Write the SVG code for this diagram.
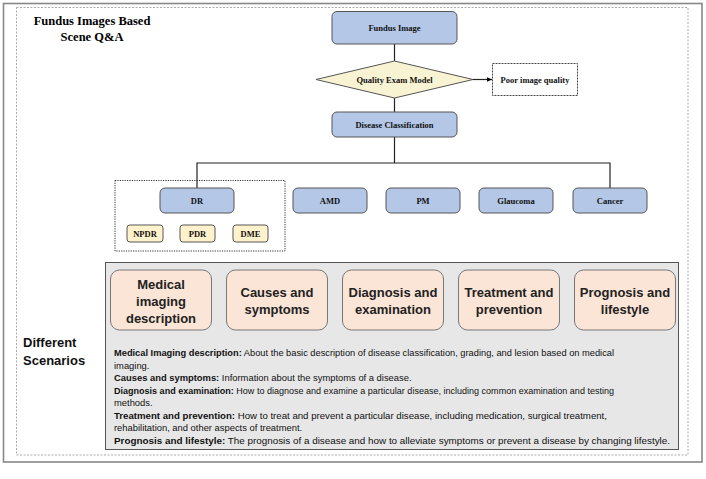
<svg xmlns="http://www.w3.org/2000/svg" width="706" height="479" viewBox="0 0 706 479">
<defs>
<marker id="arr" markerWidth="6" markerHeight="6" refX="5" refY="3" orient="auto" markerUnits="userSpaceOnUse">
<path d="M0,0.8 L5,3 L0,5.2 Z" fill="#000"/>
</marker>
<style>
.blue{fill:#b4c7e7;stroke:#555;stroke-width:1}
.yel{fill:#fff2cc;stroke:#555;stroke-width:1}
.pink{fill:#fbe5d6;stroke:#777;stroke-width:1}
.lbl{font-family:"Liberation Serif",serif;font-weight:bold;font-size:8.5px;text-anchor:middle;fill:#111}
.big{font-family:"Liberation Sans",sans-serif;font-weight:bold;font-size:13px;text-anchor:middle;fill:#222}
.body{font-family:"Liberation Sans",sans-serif;font-size:9.4px;fill:#111}
.b{font-weight:bold}
.conn{stroke:#222;stroke-width:1.2;fill:none}
</style>
</defs>
<rect x="3.5" y="3.5" width="698.5" height="458.5" fill="#fff" stroke="#888" stroke-width="1.6"/>
<rect x="16.5" y="7.5" width="671.5" height="447.5" fill="none" stroke="#aaa" stroke-width="1" stroke-dasharray="2,1.5"/>
<g id="title">
<text x="92" y="25" style="font-family:'Liberation Serif',serif;font-weight:bold;font-size:12.5px;text-anchor:middle">Fundus Images Based</text>
<text x="92" y="41" style="font-family:'Liberation Serif',serif;font-weight:bold;font-size:12.5px;text-anchor:middle">Scene Q&amp;A</text>
</g>
<g id="connectors">
<line class="conn" x1="394.5" y1="44" x2="394.5" y2="61"/>
<line class="conn" x1="394.5" y1="98" x2="394.5" y2="112"/>
<line class="conn" x1="473" y1="79.5" x2="492" y2="79.5" marker-end="url(#arr)"/>
<line class="conn" x1="394.5" y1="137" x2="394.5" y2="163"/>
<polyline class="conn" points="197,188 197,163 610,163 610,188"/>
</g>
<g id="fundus-image"><rect class="blue" x="332" y="11.5" width="125" height="32.5" rx="5"/><text class="lbl" x="394.5" y="31">Fundus Image</text></g>
<g id="quality-exam"><polygon points="316,79.5 394.5,61 473,79.5 394.5,98" fill="#f8f3d2" stroke="#555" stroke-width="1"/><text class="lbl" x="394.5" y="82.5">Quality Exam Model</text></g>
<g id="poor-quality"><rect x="492.5" y="63.5" width="85" height="32" fill="#fff" stroke="#444" stroke-width="1" stroke-dasharray="2,1"/><text class="lbl" x="535" y="82.5">Poor image quality</text></g>
<g id="disease-classification"><rect class="blue" x="332" y="112" width="125" height="25" rx="5"/><text class="lbl" x="394.5" y="127.5">Disease Classification</text></g>
<g id="dr-group"><rect x="115" y="180.5" width="170" height="70.5" fill="none" stroke="#333" stroke-width="1" stroke-dasharray="1.2,1.2"/></g>
<g id="dr"><rect class="blue" x="160" y="188" width="74" height="25" rx="5"/><text class="lbl" x="197" y="203.5">DR</text></g>
<g id="amd"><rect class="blue" x="293" y="188" width="74" height="25" rx="5"/><text class="lbl" x="330" y="203.5">AMD</text></g>
<g id="pm"><rect class="blue" x="386" y="188" width="74" height="25" rx="5"/><text class="lbl" x="423" y="203.5">PM</text></g>
<g id="glaucoma"><rect class="blue" x="479" y="188" width="74" height="25" rx="5"/><text class="lbl" x="516" y="203.5">Glaucoma</text></g>
<g id="cancer"><rect class="blue" x="573" y="188" width="74" height="25" rx="5"/><text class="lbl" x="610" y="203.5">Cancer</text></g>
<g id="npdr"><rect class="yel" x="127" y="225" width="36" height="17" rx="3"/><text class="lbl" x="145" y="236.5">NPDR</text></g>
<g id="pdr"><rect class="yel" x="180" y="225" width="35" height="17" rx="3"/><text class="lbl" x="197.5" y="236.5">PDR</text></g>
<g id="dme"><rect class="yel" x="233" y="225" width="35" height="17" rx="3"/><text class="lbl" x="250.5" y="236.5">DME</text></g>
<g id="scenarios-label">
<text x="23" y="347" style="font-family:'Liberation Sans',sans-serif;font-weight:bold;font-size:13px;fill:#111">Different</text>
<text x="23" y="365" style="font-family:'Liberation Sans',sans-serif;font-weight:bold;font-size:13px;fill:#111">Scenarios</text>
</g>
<g id="scenarios-panel"><rect x="105.5" y="262.5" width="573" height="187" fill="#e7e7e7" stroke="#555" stroke-width="1"/></g>
<g id="medical-imaging"><rect class="pink" x="110.5" y="270" width="101" height="60" rx="9"/><text class="big" x="161" y="289">Medical</text><text class="big" x="161" y="306">imaging</text><text class="big" x="161" y="323">description</text></g>
<g id="causes"><rect class="pink" x="226.5" y="270" width="101" height="60" rx="9"/><text class="big" x="277" y="297">Causes and</text><text class="big" x="277" y="314">symptoms</text></g>
<g id="diagnosis"><rect class="pink" x="342.5" y="270" width="101" height="60" rx="9"/><text class="big" x="393" y="297">Diagnosis and</text><text class="big" x="393" y="314">examination</text></g>
<g id="treatment"><rect class="pink" x="458.5" y="270" width="101" height="60" rx="9"/><text class="big" x="509" y="297">Treatment and</text><text class="big" x="509" y="314">prevention</text></g>
<g id="prognosis"><rect class="pink" x="574.5" y="270" width="101" height="60" rx="9"/><text class="big" x="625" y="297">Prognosis and</text><text class="big" x="625" y="314">lifestyle</text></g>
<g id="descriptions" class="body">
<text x="114" y="356" textLength="500" lengthAdjust="spacingAndGlyphs"><tspan class="b">Medical Imaging description:</tspan> About the basic description of disease classification, grading, and lesion based on medical</text>
<text x="114" y="368.5">imaging.</text>
<text x="114" y="381"><tspan class="b">Causes and symptoms:</tspan> Information about the symptoms of a disease.</text>
<text x="114" y="393.5" textLength="500" lengthAdjust="spacingAndGlyphs"><tspan class="b">Diagnosis and examination:</tspan> How to diagnose and examine a particular disease, including common examination and testing</text>
<text x="114" y="406">methods.</text>
<text x="114" y="418.5" textLength="493" lengthAdjust="spacingAndGlyphs"><tspan class="b">Treatment and prevention:</tspan> How to treat and prevent a particular disease, including medication, surgical treatment,</text>
<text x="114" y="431">rehabilitation, and other aspects of treatment.</text>
<text x="114" y="443.5" textLength="556" lengthAdjust="spacingAndGlyphs"><tspan class="b">Prognosis and lifestyle:</tspan> The prognosis of a disease and how to alleviate symptoms or prevent a disease by changing lifestyle.</text>
</g>
</svg>
